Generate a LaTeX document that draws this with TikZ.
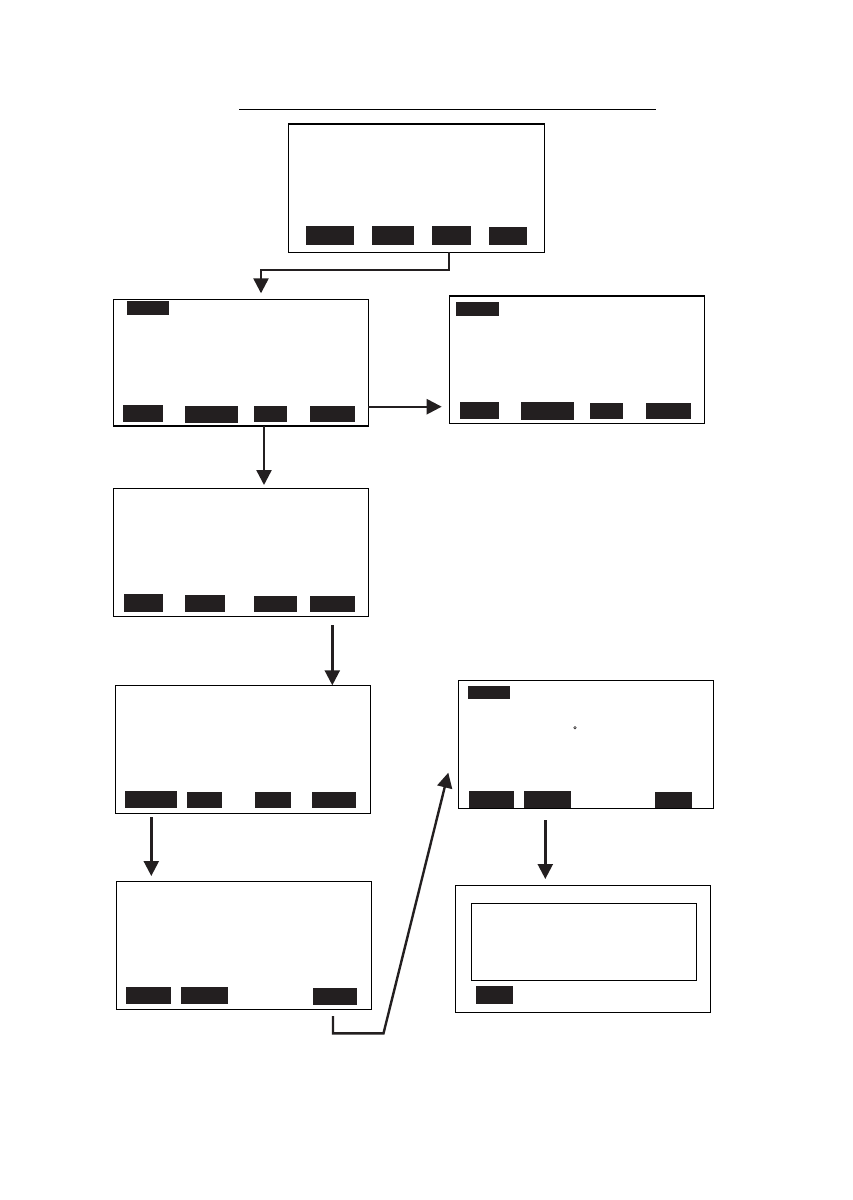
\documentclass[tikz,border=0pt]{standalone}
\usetikzlibrary{arrows.meta,calc,fit}
\definecolor{btnblack}{RGB}{35,31,32}
\begin{document}
\begin{tikzpicture}[x=1pt,y=-1pt,
  screen/.style={draw=black,line width=1.1pt,inner sep=0pt,outer sep=0pt},
  btn/.style={fill=btnblack,draw=none,inner sep=0pt,outer sep=0pt},
  conn/.style={draw=btnblack,line width=2.4pt,-{Triangle[length=15pt,width=15pt]}}]
\useasboundingbox (0,0) rectangle (852,1200);
\fill[white] (0,0) rectangle (852,1200);
% title rule
\coordinate (tl) at (239,109);
\coordinate (tr) at (656,109);
\draw[line width=1pt] (tl) -- (tr);
% screen 1
\node[screen,fit={(288.3,124)(544.3,252.3)}] (s1) {};
\node[btn,fit={(306,226)(354,244.7)}] (s1b1) {};
\node[btn,fit={(372,226)(413.7,244.7)}] (s1b2) {};
\node[btn,fit={(432,226)(470.7,244.7)}] (s1b3) {};
\node[btn,fit={(489,227)(526.7,244.7)}] (s1b4) {};
% screen 2
\node[screen,fit={(113.3,299.3)(368.3,426)}] (s2) {};
\node[btn,fit={(127,301)(169,315)}] (s2t) {};
\node[btn,fit={(122.7,405)(163,421.7)}] (s2b1) {};
\node[btn,fit={(185,406)(238,422.7)}] (s2b2) {};
\node[btn,fit={(254,406)(287,421.7)}] (s2b3) {};
\node[btn,fit={(310,406)(355,421.7)}] (s2b4) {};
% screen 3
\node[screen,fit={(449.3,296)(704.3,423.3)}] (s3) {};
\node[btn,fit={(456,302)(499,315.7)}] (s3t) {};
\node[btn,fit={(460,402)(499,418.7)}] (s3b1) {};
\node[btn,fit={(521,402)(574,419.7)}] (s3b2) {};
\node[btn,fit={(590,403)(623,418.7)}] (s3b3) {};
\node[btn,fit={(646,403)(691,418.7)}] (s3b4) {};
% screen 4
\node[screen,fit={(113.3,488.3)(368.7,616.3)}] (s4) {};
\node[btn,fit={(124,594)(163,611.7)}] (s4b1) {};
\node[btn,fit={(185,595)(225,611.7)}] (s4b2) {};
\node[btn,fit={(254,596)(297,611.7)}] (s4b3) {};
\node[btn,fit={(310,596)(355,611.7)}] (s4b4) {};
% screen 5
\node[screen,fit={(115.3,685.3)(370.7,813.3)}] (s5) {};
\node[btn,fit={(125,791)(177,807.7)}] (s5b1) {};
\node[btn,fit={(187,792)(222,807.7)}] (s5b2) {};
\node[btn,fit={(255,792)(291,807.7)}] (s5b3) {};
\node[btn,fit={(312,792)(356,807.7)}] (s5b4) {};
% screen 6
\node[screen,fit={(458.3,680.3)(713.7,808.3)}] (s6) {};
\node[btn,fit={(468,686)(510,698.7)}] (s6t) {};
\node[btn,fit={(469,791)(514,807.7)}] (s6b1) {};
\node[btn,fit={(524,791)(571,807.7)}] (s6b2) {};
\node[btn,fit={(655,792)(692,807.7)}] (s6b3) {};
\node[draw=btnblack,line width=0.5pt,circle,inner sep=0pt,minimum size=2.5pt] (s6dot) at (575,727.7) {};
% screen 7
\node[screen,fit={(116.3,881.3)(371.7,1009.3)}] (s7) {};
\node[btn,fit={(126,987)(171,1003.7)}] (s7b1) {};
\node[btn,fit={(181,987)(228,1003.7)}] (s7b2) {};
\node[btn,fit={(313,988)(357,1004.7)}] (s7b3) {};
% screen 8
\node[screen,fit={(455.3,885.3)(710.3,1012.3)}] (s8) {};
\node[screen,fit={(471.3,903.3)(696.3,980.3)}] (s8in) {};
\node[btn,fit={(476,986)(513,1003.7)}] (s8b1) {};
% connectors
\coordinate (a1) at ($(s1.south west)+(160.7,0)$);
\coordinate (a2) at ($(s2.north west)+(147.7,-29.3)$);
\draw[conn,line join=miter] (a1) |- (a2) -- ($(s2.north west)+(147.7,-6)$);
\draw[conn] (s2.east |- 0,406.7) -- ($(s3.west |- 0,406.7)+(-7.6,0)$);
\draw[conn] ($(s2.south west)+(150.7,0)$) -- ($(s4.north west)+(150.7,-3.3)$);
\draw[conn] ($(s4.south west)+(219,8.7)$) -- ($(s5.north west)+(217,0)$);
\draw[conn] ($(s5.south west)+(36,4)$) -- ($(s7.north west)+(35,-5.3)$);
\coordinate (f1) at ($(s7.south west)+(216.7,6.7)$);
\coordinate (f2) at ($(s7.south west)+(216.7,24)$);
\coordinate (f3) at ($(s7.south west)+(267.2,24)$);
\draw[conn,line join=miter] (f1) -- (f2) -- (f3) -- ($(s6.south west)+(-10,-35.6)$);
\draw[conn] ($(s6.south west)+(87,11.7)$) -- ($(s8.north west)+(90,-6.3)$);
\end{tikzpicture}
\end{document}
